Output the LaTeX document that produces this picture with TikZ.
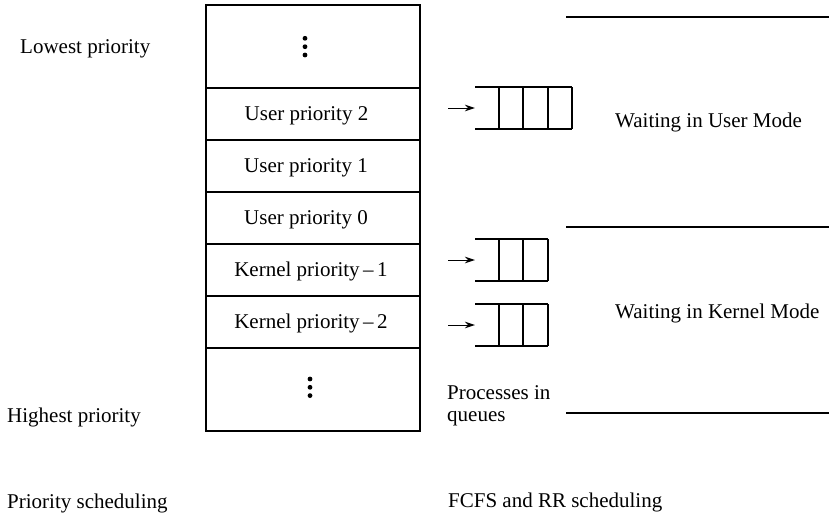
\documentclass[tikz,border=0pt]{standalone}
\usepackage{fontspec}
\setmainfont{Liberation Serif}
\usetikzlibrary{arrows.meta}
\begin{document}
\begin{tikzpicture}[x=1pt,y=-1pt,
  lbl/.style={font=\fontsize{21}{22}\selectfont, inner sep=0pt, anchor=base west},
  rowlbl/.style={font=\fontsize{21}{22}\selectfont, inner sep=0pt, anchor=base},
  row/.style={draw, line width=1.8pt, anchor=north west, minimum width=214pt, inner sep=0pt},
  qline/.style={line width=1.9pt},
  feed/.style={line width=1pt, -{Stealth[length=10pt,width=6.5pt]}},
  sepline/.style={line width=1.3pt},
  dotc/.style={fill, circle, inner sep=0pt, minimum size=4.8pt}]
\useasboundingbox (0,0) rectangle (829,517);
% priority column
\node[row, minimum height=83pt] (r0) at (205,4) {};
\node[row, minimum height=52pt] (r1) at (205,87) {};
\node[row, minimum height=52pt] (r2) at (205,139) {};
\node[row, minimum height=52pt] (r3) at (205,191) {};
\node[row, minimum height=52pt] (r4) at (205,243) {};
\node[row, minimum height=52pt] (r5) at (205,295) {};
\node[row, minimum height=83pt] (r6) at (205,347) {};
\node[dotc] (d1) at (305,38.3) {};
\node[dotc] (d2) at (305,46.7) {};
\node[dotc] (d3) at (305,55) {};
\node[dotc] (d4) at (310,379) {};
\node[dotc] (d5) at (310,387.3) {};
\node[dotc] (d6) at (310,395.6) {};
\node[rowlbl] (l1) at (306.5,120) {User priority 2};
\node[rowlbl] (l2) at (306,172) {User priority 1};
\node[rowlbl] (l3) at (306,224) {User priority 0};
\node[rowlbl] (l4) at (311,276) {Kernel priority\,–\,1};
\node[rowlbl] (l5) at (311,328) {Kernel priority\,–\,2};
% queues
\draw[qline] (475,87) -- (572,87) (475,129) -- (572,129);
\foreach \x in {499,523,548,572} \draw[qline] (\x,87) -- (\x,129);
\draw[qline] (475,239) -- (548,239) (475,281) -- (548,281);
\foreach \x in {499,523,548} \draw[qline] (\x,239) -- (\x,281);
\draw[qline] (475,304) -- (548,304) (475,346) -- (548,346);
\foreach \x in {499,523,548} \draw[qline] (\x,304) -- (\x,346);
\coordinate (qa) at (475,108);
\coordinate (qb) at (475,260);
\coordinate (qc) at (475,325);
\coordinate (fa) at (448,108);
\coordinate (fb) at (448,260);
\coordinate (fc) at (448,325);
\draw[feed] (fa) -- (qa);
\draw[feed] (fb) -- (qb);
\draw[feed] (fc) -- (qc);
% separators
\draw[sepline] (566,17) -- (829,17);
\draw[sepline] (566,227) -- (829,227);
\draw[sepline] (566,413) -- (829,413);
% texts
\node[lbl] (t1) at (20,53) {Lowest priority};
\node[lbl] (t2) at (7,422) {Highest priority};
\node[lbl] (t3) at (7,508) {Priority scheduling};
\node[lbl] (t4) at (448,507) {FCFS and RR scheduling};
\node[lbl] (t5) at (615,127) {Waiting in User Mode};
\node[lbl] (t6) at (615,318) {Waiting in Kernel Mode};
\node[lbl, align=left] (t7) at (447,421) {Processes in\\queues};
\end{tikzpicture}
\end{document}
